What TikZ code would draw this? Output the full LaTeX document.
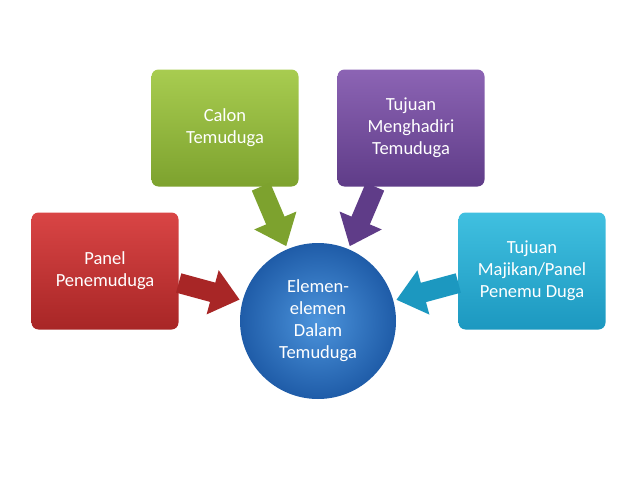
\documentclass[tikz,border=0pt]{standalone}
\usepackage{fontspec}
\setmainfont{Carlito}
\usetikzlibrary{arrows.meta}
\definecolor{redtop}{HTML}{D94545}\definecolor{redbot}{HTML}{A82626}
\definecolor{greentop}{HTML}{A8CC50}\definecolor{greenbot}{HTML}{7DA22E}
\definecolor{purptop}{HTML}{8C64B4}\definecolor{purpbot}{HTML}{5F3C88}
\definecolor{cyantop}{HTML}{40C0E0}\definecolor{cyanbot}{HTML}{1C98C0}
\definecolor{bluein}{HTML}{4C94DC}\definecolor{blueout}{HTML}{1F5CA8}
\tikzset{
  topicbox/.style={rounded corners=7pt, minimum width=147pt, minimum height=117pt,
    align=center, text=white, font=\fontsize{18.5}{22}\selectfont, inner sep=0pt},
  blockarrow/.style={line width=20pt, -{Triangle[length=28pt,width=44pt]}, shorten >=3pt}
}
\begin{document}
\begin{tikzpicture}[x=1pt,y=1pt,yscale=-1,xscale=1]
\useasboundingbox (0,0) rectangle (638,479);

% Topic boxes
\node (panel) [topicbox, top color=redtop, bottom color=redbot] at (105,271) {Panel\\Penemuduga};
\node (calon) [topicbox, top color=greentop, bottom color=greenbot] at (225,128) {Calon\\Temuduga};
\node (tujuan) [topicbox, top color=purptop, bottom color=purpbot] at (411,128) {Tujuan\\Menghadiri\\Temuduga};
\node (majikan) [topicbox, top color=cyantop, bottom color=cyanbot] at (532,271) {Tujuan\\Majikan/Panel\\Penemu Duga};

% Centre circle
\node (elemen) [circle, minimum size=156pt, inner sep=0pt, inner color=bluein, outer color=blueout,
  align=center, text=white, font=\fontsize{18.5}{22}\selectfont] at (318,321) {Elemen-\\elemen\\Dalam\\Temuduga};

% Arrows
\draw [blockarrow, redbot] ([yshift=12]panel.east) -- (elemen);
\draw [blockarrow, greenbot] ([xshift=36]calon.south) -- (elemen);
\draw [blockarrow, purpbot] ([xshift=-36]tujuan.south) -- (elemen);
\draw [blockarrow, cyanbot] ([yshift=12]majikan.west) -- (elemen);

\end{tikzpicture}
\end{document}
